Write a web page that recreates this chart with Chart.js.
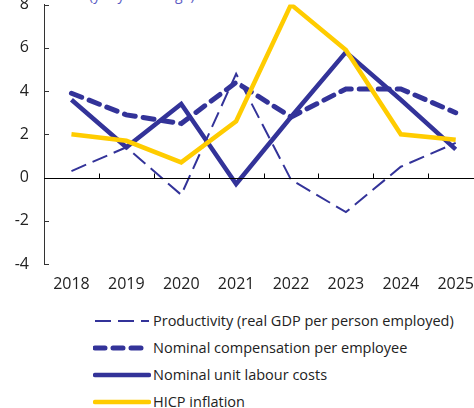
<!DOCTYPE html>
<html>
<head>
<meta charset="utf-8">
<script src="https://cdn.jsdelivr.net/npm/chart.js@4"></script>
<style>
  html, body { margin:0; padding:0; width:474px; height:408px; overflow:hidden; background:#fff; }
  #title { position:absolute; left:89px; top:-13px; font:14px "Open Sans", sans-serif; color:#5c5cc4; line-height:16px; white-space:nowrap; }
  #wrap { position:absolute; left:0; top:-20px; width:485px; height:314px; }
  #legend { position:absolute; left:93px; top:307px; font:14.5px "Open Sans", sans-serif; color:#222; }
  .row { height:27px; display:flex; align-items:center; }
  .row svg { width:58px; height:10px; margin-right:2px; }
</style>
</head>
<body>
<div id="title">(y-o-y % change)</div>
<div id="wrap"><canvas id="c" width="485" height="314"></canvas></div>
<div id="legend"></div>
<script>
const categories = ["2018","2019","2020","2021","2022","2023","2024","2025"];
const productivity = [0.3, 1.4, -0.8, 4.8, -0.1, -1.6, 0.5, 1.6];
const compensation = [3.9, 2.9, 2.5, 4.4, 2.8, 4.1, 4.1, 3.0];
const ulc = [3.6, 1.4, 3.4, -0.3, 2.8, 5.8, 3.6, 1.3];
const hicp = [2.0, 1.7, 0.7, 2.6, 8.0, 5.9, 2.0, 1.75];
const yTicks = [-4, -2, 0, 2, 4, 6, 8];
const seriesNames = ["Productivity (real GDP per person employed)", "Nominal compensation per employee", "Nominal unit labour costs", "HICP inflation"];

const NAVY = "#333399", YELLOW = "#ffcc00";
const FONT = '"Open Sans", sans-serif';

const axisPlugin = {
  id: "axisPlugin",
  afterDatasetsDraw(chart) {
    const ctx = chart.ctx, x = chart.scales.x, y = chart.scales.y, a = chart.chartArea;
    ctx.save();
    ctx.strokeStyle = "#333"; ctx.lineWidth = 1;
    yTicks.forEach(v => {
      const py = Math.round(y.getPixelForValue(v)) + 0.5;
      ctx.beginPath(); ctx.moveTo(a.left, py); ctx.lineTo(a.left + 5, py); ctx.stroke();
    });
    const y0 = Math.round(y.getPixelForValue(0)) + 0.5;
    ctx.strokeStyle = "#000";
    ctx.beginPath(); ctx.moveTo(a.left, y0); ctx.lineTo(a.right, y0); ctx.stroke();
    for (let i = 0; i < categories.length; i++) {
      const px = Math.round((x.getPixelForValue(i) + x.getPixelForValue(i + 1)) / 2) + 0.5;
      ctx.beginPath(); ctx.moveTo(px, y0); ctx.lineTo(px, y0 - 5); ctx.stroke();
    }
    ctx.restore();
  }
};

new Chart(document.getElementById("c"), {
  type: "line",
  data: {
    labels: categories,
    datasets: [
      { label: seriesNames[0], data: productivity, borderColor: NAVY, borderWidth: 2, borderDash: [16, 7], pointRadius: 0, tension: 0, order: 3 },
      { label: seriesNames[1], data: compensation, borderColor: NAVY, borderWidth: 5, borderDash: [11, 8], borderCapStyle: "round", pointRadius: 0, tension: 0, order: 2 },
      { label: seriesNames[2], data: ulc, borderColor: NAVY, borderWidth: 4.5, pointRadius: 0, tension: 0, order: 1 },
      { label: seriesNames[3], data: hicp, borderColor: YELLOW, borderWidth: 4.5, pointRadius: 0, tension: 0, order: 0 }
    ]
  },
  options: {
    responsive: false,
    animation: false,
    events: [],
    layout: { padding: { top: 23, right: 0, bottom: 0, left: 0 } },
    plugins: { legend: { display: false }, tooltip: { enabled: false } },
    scales: {
      x: {
        offset: true,
        grid: { display: false, drawTicks: false },
        border: { display: false },
        ticks: { color: "#222", font: { family: FONT, size: 16 }, padding: 11, maxRotation: 0, autoSkip: false },
        afterFit(s) { s.height = 30; }
      },
      y: {
        min: -4, max: 8,
        afterBuildTicks(s) { s.ticks = yTicks.map(v => ({ value: v })); },
        grid: { display: false, drawTicks: false },
        border: { display: true, color: "#333", width: 1 },
        ticks: { color: "#222", font: { family: FONT, size: 16 }, padding: 15 },
        afterFit(s) { s.width = 44; }
      }
    }
  },
  plugins: [axisPlugin]
});

const styles = [
  { w: 2, dash: "16 7", color: NAVY, cap: "butt" },
  { w: 5, dash: "10 8", color: NAVY, cap: "round" },
  { w: 4.5, dash: "", color: NAVY, cap: "round" },
  { w: 4.5, dash: "", color: YELLOW, cap: "round" }
];
const leg = document.getElementById("legend");
seriesNames.forEach((name, i) => {
  const s = styles[i];
  const row = document.createElement("div"); row.className = "row";
  row.innerHTML = `<svg viewBox="0 0 58 10"><line x1="2" y1="5" x2="56" y2="5" stroke="${s.color}" stroke-width="${s.w}" stroke-linecap="${s.cap}" ${s.dash ? `stroke-dasharray="${s.dash}"` : ""}/></svg><span></span>`;
  row.querySelector("span").textContent = name;
  leg.appendChild(row);
});
</script>
</body>
</html>
